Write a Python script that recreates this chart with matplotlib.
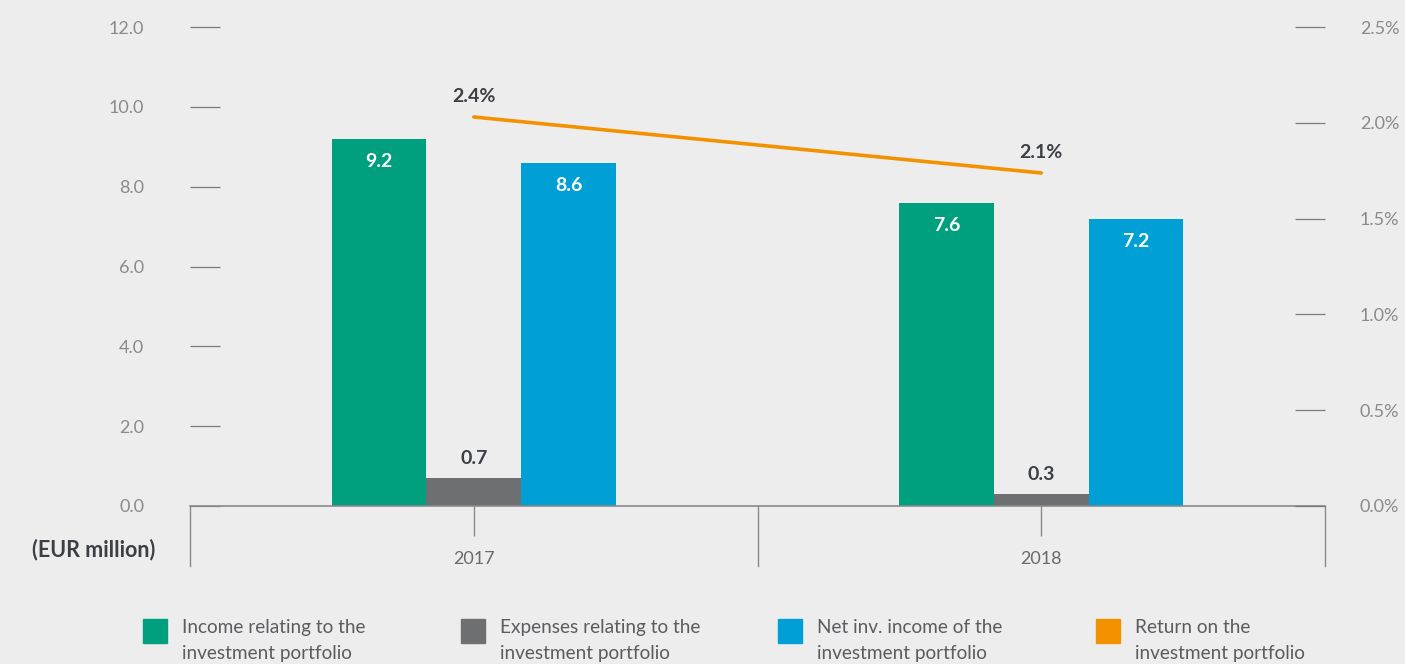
import matplotlib
matplotlib.use("Agg")
import matplotlib.pyplot as plt
import matplotlib.patches as mpatches

# Data
years = ["2017", "2018"]
income = [9.2, 7.6]
expenses = [0.7, 0.3]
net_income = [8.6, 7.2]
returns = [2.4, 2.1]

left_ticks = [0, 2, 4, 6, 8, 10, 12]
right_ticks = [0.0, 0.5, 1.0, 1.5, 2.0, 2.5]

legend_labels = [
    "Income relating to the\ninvestment portfolio",
    "Expenses relating to the\ninvestment portfolio",
    "Net inv. income of the\ninvestment portfolio",
    "Return on the\ninvestment portfolio",
]

# Style
BG = "#ededed"
GREEN = "#00a07e"
GREY = "#6d6f71"
BLUE = "#009fd6"
ORANGE = "#f39200"
DARK = "#3c3f44"
TICK_GREY = "#8a8a8a"
LINE_GREY = "#7a7a7a"

plt.rcParams["font.family"] = ["Lato", "DejaVu Sans"]

W, H = 1405, 664
fig = plt.figure(figsize=(W / 100, H / 100), dpi=100, facecolor=BG)
ax = fig.add_axes([190 / W, 1 - 506 / H, 1135 / W, 479 / H])
ax.set_facecolor(BG)

x = list(range(len(years)))
bw = 0.167

b1 = ax.bar([i - bw for i in x], income, bw, color=GREEN, zorder=3)
b2 = ax.bar(x, expenses, bw, color=GREY, zorder=3)
b3 = ax.bar([i + bw for i in x], net_income, bw, color=BLUE, zorder=3)

ax.set_xlim(-0.5, 1.5)
ax.set_ylim(0, 12)

# value labels
for bars in (b1, b3):
    for rect in bars:
        ax.annotate(f"{rect.get_height():.1f}",
                    (rect.get_x() + rect.get_width() / 2, rect.get_height()),
                    xytext=(0, -16.5), textcoords="offset points",
                    ha="center", va="center", color="white",
                    fontsize=14, fontweight="bold", zorder=5)
for rect in b2:
    ax.annotate(f"{rect.get_height():.1f}",
                (rect.get_x() + rect.get_width() / 2, rect.get_height()),
                xytext=(0, 14), textcoords="offset points",
                ha="center", va="center", color=DARK,
                fontsize=14, fontweight="bold")

# left axis ticks: short dashes inside, labels to the left
ax.set_yticks(left_ticks)
ax.set_yticklabels([f"{v:.1f}" for v in left_ticks])
ax.tick_params(axis="y", direction="in", length=21.6, width=0.9,
               color=LINE_GREY, pad=33, labelsize=13, labelcolor=TICK_GREY)

# x axis
ax.set_xticks(x)
ax.set_xticklabels(years)
ax.tick_params(axis="x", direction="out", length=21.6, width=1.0,
               color=TICK_GREY, pad=11, labelsize=13, labelcolor="#6a6a6a")

for side in ("left", "right", "top"):
    ax.spines[side].set_visible(False)
ax.spines["bottom"].set_color(TICK_GREY)
ax.spines["bottom"].set_linewidth(1.2)
ax.spines["bottom"].set_zorder(4)

# category separators below the axis
sep_len = 60 / 479
for xs in (-0.5, 0.5, 1.5):
    ax.plot([xs, xs], [0, -sep_len], color=TICK_GREY, lw=1.0,
            transform=ax.get_xaxis_transform(), clip_on=False)

# right axis (percentage scale)
ax2 = ax.twinx()
ax2.set_ylim(0, 2.5)
ax2.set_yticks(right_ticks)
ax2.set_yticklabels([f"{v:.1f}%" for v in right_ticks])
ax2.tick_params(axis="y", direction="in", length=21.6, width=0.9,
                color=LINE_GREY, pad=25, labelsize=13, labelcolor=TICK_GREY)
for side in ax2.spines:
    ax2.spines[side].set_visible(False)

# return line on its own hidden scale (as drawn in the source)
ax3 = ax.twinx()
ax3.set_ylim(0.316, 2.882)
ax3.axis("off")
ax3.plot(x, returns, color=ORANGE, lw=2.6, solid_capstyle="round", zorder=4)
for xi, r in zip(x, returns):
    ax3.annotate(f"{r:.1f}%", (xi, r), xytext=(0, 15), textcoords="offset points",
                 ha="center", va="center", color=DARK, fontsize=14, fontweight="bold")

fig.text(155 / W, 1 - 550 / H, "(EUR million)", ha="right", va="center",
         color=DARK, fontsize=15.5, fontweight="bold")

# legend drawn manually with equal spacing
colors = [GREEN, GREY, BLUE, ORANGE]
for i, (label, col) in enumerate(zip(legend_labels, colors)):
    x0 = 143 + i * 317.7
    fig.add_artist(mpatches.Rectangle((x0 / W, 1 - 643 / H), 24 / W, 24 / H,
                                      transform=fig.transFigure, color=col))
    fig.text((x0 + 39) / W, 1 - 619 / H, label, ha="left", va="top",
             color="#5a5c5f", fontsize=13.7, linespacing=1.65)

fig.savefig("out.png", dpi=100, facecolor=BG)
